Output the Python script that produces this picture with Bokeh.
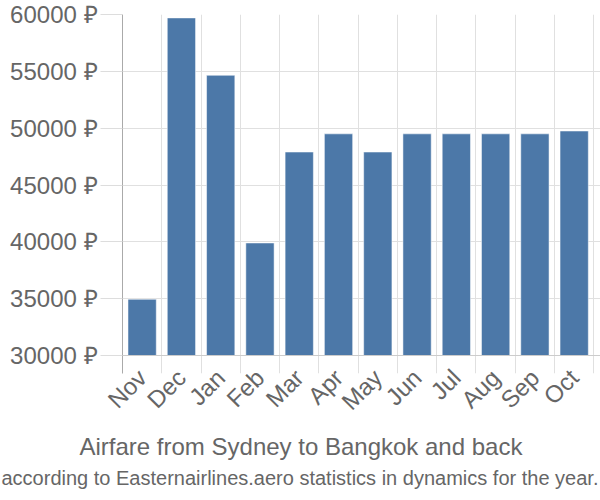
import math
from bokeh.plotting import figure
from bokeh.models import (FixedTicker, PrintfTickFormatter, Span,
                          CustomJSTickFormatter, Title, Range1d, ColumnDataSource)
from bokeh.embed import file_html
from bokeh.resources import INLINE

months = ["Nov", "Dec", "Jan", "Feb", "Mar", "Apr", "May", "Jun", "Jul", "Aug", "Sep", "Oct"]
prices = [34950, 59700, 54650, 39900, 47900, 49500, 47900, 49500, 49500, 49500, 49500, 49750]
y_ticks = [30000, 35000, 40000, 45000, 50000, 55000, 60000]
title_text = "Airfare from Sydney to Bangkok and back"
subtitle_text = "according to Easternairlines.aero statistics in dynamics for the year."

TEXT = "#666666"
FONT = "Liberation Sans"

n = len(months)
centers = [i + 0.5 for i in range(n)]
bounds = list(range(n + 1))

# frame: top at 14px, value axis 30000..60000 spans 341px, plus 18px of tick room below
plot_px = 341.0
tick_px = 18.0
units_per_px = (y_ticks[-1] - y_ticks[0]) / plot_px
y_start = y_ticks[0] - tick_px * units_per_px

src = ColumnDataSource(dict(x=centers, top=prices, month=months))

p = figure(width=600, height=500, output_backend="svg", toolbar_location=None,
           x_range=Range1d(0, n + 0.17), y_range=Range1d(y_start, y_ticks[-1]),
           min_border_left=122, min_border_right=0, min_border_top=14,
           min_border_bottom=int(500 - 14 - plot_px - tick_px))
p.outline_line_color = None
p.background_fill_color = "white"
p.border_fill_color = "white"

p.vbar(x="x", top="top", bottom=y_ticks[0], width=0.72, source=src,
       fill_color="#4c78a8", line_color="white", line_alpha=0.5, line_width=1)

# grids
p.ygrid.ticker = FixedTicker(ticks=y_ticks)
p.xgrid.ticker = FixedTicker(ticks=bounds)
p.grid.grid_line_color = "#e0e0e0"
p.grid.grid_line_width = 1

# baseline (x axis line)
p.add_layout(Span(location=y_ticks[0], dimension="width", line_color="#cccccc", line_width=1))

# y axis
ya = p.yaxis[0]
ya.ticker = FixedTicker(ticks=y_ticks)
ya.formatter = PrintfTickFormatter(format="%d ₽")
ya.major_tick_out = 22
ya.major_tick_in = 0
ya.major_tick_line_color = "#dddddd"
ya.minor_tick_line_color = None
ya.axis_line_color = "#aaaaaa"
ya.major_label_text_font = FONT
ya.major_label_text_font_size = "24px"
ya.major_label_text_color = TEXT
ya.major_label_standoff = 3

# x axis labels at category centers
xl = p.xaxis[0]
xl.ticker = FixedTicker(ticks=centers)
xl.formatter = CustomJSTickFormatter(args=dict(months=months),
                                     code="return months[Math.floor(tick)];")
xl.axis_line_color = None
xl.major_tick_line_color = None
xl.minor_tick_line_color = None
xl.major_tick_out = 0
xl.major_tick_in = 0
xl.major_label_orientation = math.pi / 4
xl.major_label_text_font = FONT
xl.major_label_text_font_size = "24px"
xl.major_label_text_color = TEXT
xl.major_label_standoff = 0

t1 = Title(text=title_text, align="left", offset=-43, text_font=FONT,
           text_font_size="24px", text_font_style="normal", text_color=TEXT,
           standoff=7)
p.add_layout(t1, "below")
t2 = Title(text=subtitle_text, align="left", offset=-121, text_font=FONT,
           text_font_size="20px", text_font_style="normal", text_color=TEXT,
           standoff=3)
p.add_layout(t2, "below")

open("out.html", "w").write(file_html(p, INLINE))
